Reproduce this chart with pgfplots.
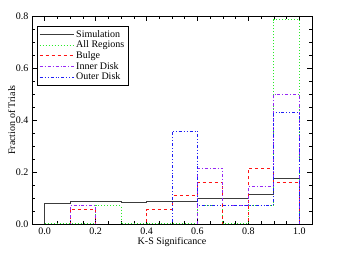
\documentclass[border=0pt]{standalone}
\usepackage{fontspec}
\setmainfont{Liberation Serif}
\usepackage{pgfplots}
\pgfplotsset{compat=1.18}
\usetikzlibrary{calc}
\definecolor{simc}{RGB}{60,60,60}
\definecolor{allc}{RGB}{40,235,40}
\definecolor{bulc}{RGB}{255,20,20}
\definecolor{innc}{RGB}{150,40,245}
\definecolor{outc}{RGB}{30,30,245}
\pgfplotsset{mylegimg/.style={legend image code/.code={\draw[##1] (0pt,0pt) -- (34pt,0pt);}}}
\begin{document}
\begin{tikzpicture}
\begin{axis}[
  name=ax,
  scale only axis,
  width=280pt, height=208pt,
  xmin=-0.05, xmax=1.05, ymin=0, ymax=0.8,
  xtick={0,0.2,0.4,0.6,0.8,1.0},
  ytick={0,0.2,0.4,0.6,0.8},
  minor x tick num=3, minor y tick num=3,
  xticklabel style={/pgf/number format/fixed,/pgf/number format/fixed zerofill,/pgf/number format/precision=1},
  yticklabel style={/pgf/number format/fixed,/pgf/number format/fixed zerofill,/pgf/number format/precision=1},
  /pgf/number format/assume math mode=true,
  tick align=inside,
  major tick length=5pt, minor tick length=3pt,
  tick style={black, line width=0.6pt},
  axis line style={line width=0.7pt},
  xlabel={K-S Significance}, ylabel={Fraction of Trials},
  label style={font=\fontsize{10}{12}\selectfont},
  ticklabel style={font=\fontsize{10}{12}\selectfont},
  xlabel style={yshift=4pt},
  ylabel style={yshift=-6pt},
  legend style={at={(0.018,0.952)}, anchor=north west,
    font=\fontsize{10}{11}\selectfont, row sep=-1.8pt, inner sep=2pt},
  legend cell align=left,
  mylegimg,
  mark=none,
]
\addlegendimage{draw=simc, line width=0.9pt, solid}
\addlegendentry{Simulation}
\addlegendimage{draw=allc, line width=1pt, dotted}
\addlegendentry{All Regions}
\addlegendimage{draw=bulc, line width=0.9pt, dashed}
\addlegendentry{Bulge}
\addlegendimage{draw=innc, line width=0.9pt, dash dot}
\addlegendentry{Inner Disk}
\addlegendimage{draw=outc, line width=0.9pt, dash dot dot}
\addlegendentry{Outer Disk}
\addplot[const plot, draw=simc, line width=0.9pt, solid, forget plot] coordinates {
 (0,0) (0,0.078) (0.1,0.088) (0.2,0.088) (0.3,0.083) (0.4,0.087) (0.5,0.087)
 (0.6,0.097) (0.7,0.100) (0.8,0.115) (0.9,0.177) (1.0,0.177) (1.0,0)};
\addplot[const plot, draw=allc, line width=1pt, dotted, forget plot] coordinates {
 (0,0) (0.1,0) (0.2,0.0714) (0.3,0) (0.4,0) (0.5,0) (0.6,0.0714) (0.7,0)
 (0.8,0.0714) (0.9,0.786) (1.0,0.786) (1.0,0)};
\addplot[const plot, draw=bulc, line width=0.9pt, dashed, forget plot] coordinates {
 (0,0) (0.1,0.055) (0.2,0) (0.3,0) (0.4,0.055) (0.5,0.109) (0.6,0.160) (0.7,0)
 (0.8,0.215) (0.9,0.160) (1.0,0.160) (1.0,0)};
\addplot[const plot, draw=innc, line width=0.9pt, dash dot, forget plot] coordinates {
 (0,0) (0.1,0.0714) (0.2,0) (0.3,0) (0.4,0) (0.5,0) (0.6,0.214) (0.7,0.0714)
 (0.8,0.143) (0.9,0.5) (1.0,0.5) (1.0,0)};
\addplot[const plot, draw=outc, line width=0.9pt, dash dot dot, forget plot] coordinates {
 (0,0) (0.1,0) (0.2,0) (0.3,0) (0.4,0) (0.5,0.357) (0.6,0.0714) (0.7,0.0714)
 (0.8,0.0714) (0.9,0.429) (1.0,0.429) (1.0,0)};
\end{axis}
\pgfresetboundingbox
\path[use as bounding box] ($(ax.south west)+(-32pt,-48pt)$) rectangle ($(ax.north east)+(38pt,16pt)$);
\end{tikzpicture}
\end{document}
